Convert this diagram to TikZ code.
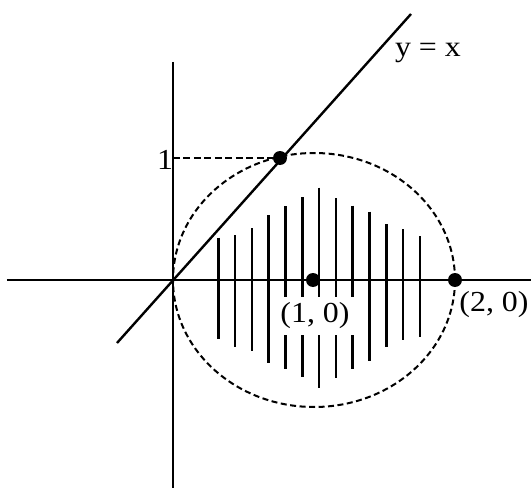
\documentclass[tikz,border=0pt]{standalone}
\usepackage{fontspec}
\setmainfont{Liberation Serif}[FakeStretch=1.1]
\usepackage{tikz}
\usetikzlibrary{positioning}

\begin{document}
\begin{tikzpicture}[x=1pt, y=1pt, font=\fontsize{29}{32}\selectfont]
    \tikzstyle{axis}=[line width=2.4pt]
    \tikzstyle{stripe}=[line width=2.6pt]
    \tikzstyle{dot}=[circle, fill=black, inner sep=0pt, minimum size=14pt]
    \tikzstyle{bound}=[line width=2pt, dash pattern=on 6pt off 3.5pt]
    \tikzstyle{guide}=[line width=2pt, dash pattern=on 7pt off 3.5pt]
    \tikzstyle{lbl}=[inner sep=0pt]

    \useasboundingbox (-173,-208) rectangle (358,280);

    % axes and the line y = x
    \coordinate (O) at (0,0);
    \coordinate (xl) at (-166,0);
    \coordinate (xr) at (358,0);
    \coordinate (yt) at (0,218);
    \coordinate (yb) at (0,-208);
    \coordinate (ll) at (-56,-63);
    \coordinate (lu) at (238,266);
    \draw[axis] (xl) -- (xr);
    \draw[axis] (yt) -- (yb);
    \draw[axis] (ll) -- (lu);

    % shaded region
    \foreach \x/\t/\b in {45.3/42.3/-59.3, 62.1/45/-66.7, 78.9/51.7/-71,
                          95.7/65/-83.3, 112.5/74/-89.3, 129.3/82.7/-96.7,
                          146.1/92.3/-107.7, 162.9/81.7/-97.7, 179.7/74.3/-88.7,
                          196.5/68.3/-80.7, 213.3/56/-66.7, 230.1/51/-60,
                          246.9/43.7/-57.3}
        \draw[stripe] (\x,\t) -- (\x,\b);

    % boundary curve
    \coordinate (c) at (141,0);
    \draw[bound] (c) ellipse [x radius=141, y radius=127];

    % points
    \node[dot] (P) at (107,122) {};
    \coordinate (Q) at (0,122);
    \draw[guide] (Q) -- (P);
    \node[dot] (C) at (140,0) {};
    \node[dot] (D) at (282,0) {};

    % labels
    \node[lbl, anchor=base] (one) at (-8,111) {1};
    \node[fill=white, inner xsep=4pt, inner ysep=6pt] (cl) at (142,-36) {(1, 0)};
    \node[lbl] (dl) at (321,-25) {(2, 0)};
    \node[lbl, anchor=base] (yx) at (255,223) {y = x};
\end{tikzpicture}
\end{document}
